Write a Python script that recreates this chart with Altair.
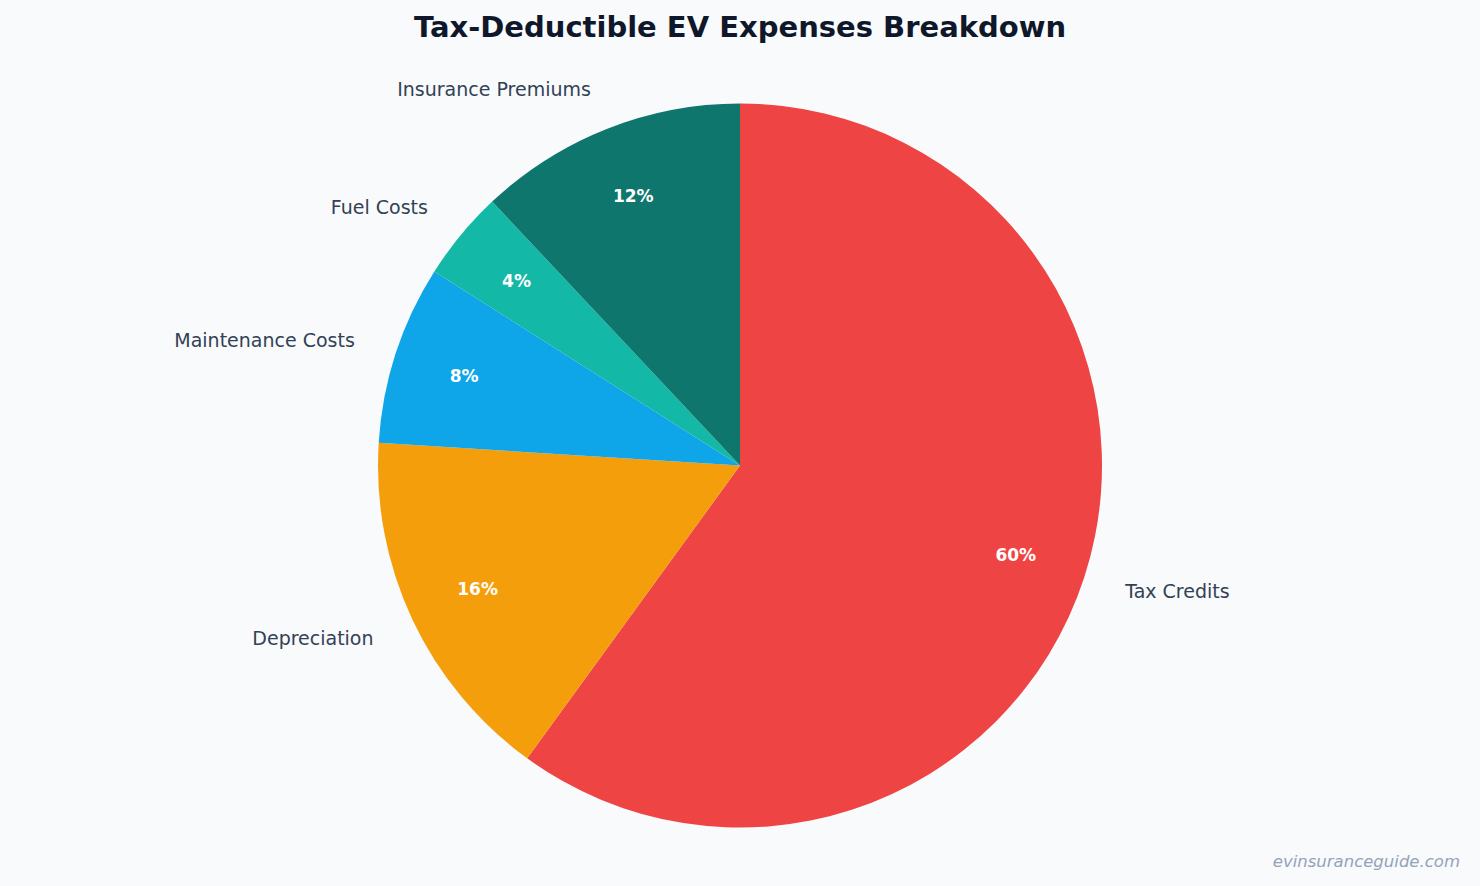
import altair as alt
import pandas as pd

categories = ["Tax Credits", "Depreciation", "Maintenance Costs", "Fuel Costs", "Insurance Premiums"]
shares = [60, 16, 8, 4, 12]
colors = ["#ef4444", "#f59e0b", "#0ea5e9", "#14b8a6", "#0f766e"]
# which side of the pie each outer label sits on
sides = ["right", "left", "left", "left", "left"]

df = pd.DataFrame({
    "category": categories,
    "share": shares,
    "order": list(range(len(categories))),
    "side": sides,
    "pct": [f"{s}%" for s in shares],
})

FONT = "DejaVu Sans"
R = 362

base = alt.Chart(df).encode(
    theta=alt.Theta("share:Q", stack=True),
    order=alt.Order("order:Q"),
)

slices = base.mark_arc(outerRadius=R, stroke=None).encode(
    color=alt.Color("category:N", scale=alt.Scale(domain=categories, range=colors), legend=None),
)

pct_labels = base.mark_text(
    radius=290, font=FONT, fontSize=17, fontWeight="bold", color="white",
    align="center", baseline="middle", dy=1,
).encode(text="pct:N")

right_labels = base.mark_text(
    radius=405, font=FONT, fontSize=19, color="#334155", align="left", baseline="middle", dy=1,
).encode(
    text="category:N",
    opacity=alt.condition("datum.side == 'right'", alt.value(1), alt.value(0)),
)

left_labels = base.mark_text(
    radius=405, font=FONT, fontSize=19, color="#334155", align="right", baseline="middle", dy=1,
).encode(
    text="category:N",
    opacity=alt.condition("datum.side == 'left'", alt.value(1), alt.value(0)),
)

watermark = alt.Chart(pd.DataFrame({"t": ["evinsuranceguide.com"]})).mark_text(
    font=FONT, fontSize=16.5, fontStyle="italic", color="#94a3b8", align="right", baseline="middle",
).encode(text="t:N", x=alt.value(1460), y=alt.value(817))

chart = alt.layer(slices, pct_labels, right_labels, left_labels, watermark).properties(
    width=1480,
    height=841,
    padding={"left": 0, "right": 0, "top": 45, "bottom": 0},
    autosize=alt.AutoSizeParams(type="none"),
    background="#f8fafc",
    title=alt.TitleParams(
        "Tax-Deductible EV Expenses Breakdown",
        font=FONT, fontSize=29, fontWeight="bold", color="#0f172a",
        anchor="middle", offset=2,
    ),
).configure_view(stroke=None)

chart.save("out.html", embed_options={"renderer": "svg", "actions": False})
